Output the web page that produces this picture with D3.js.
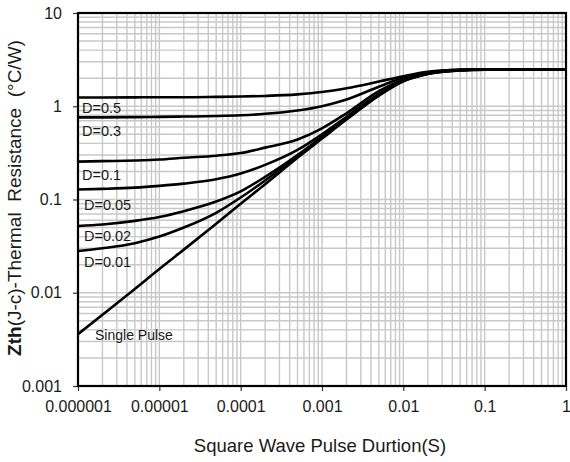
<!DOCTYPE html>
<html>
<head>
<meta charset="utf-8">
<script src="https://cdn.jsdelivr.net/npm/d3@7/dist/d3.min.js"></script>
<style>
body{margin:0;background:#fff;}
text{font-family:"Liberation Sans",Arial,sans-serif;fill:#1a1a1a;}
</style>
</head>
<body>
<svg id="chart" width="570" height="462"></svg>
<script>
// pulse width (s) and Zth (C/W)
var pulseWidth=[1e-6,2e-6,5e-6,1e-5,2e-5,5e-5,1e-4,2e-4,5e-4,1e-3,2e-3,5e-3,1e-2,2e-2,5e-2,0.1,0.2,0.5,1];
var zthD05=[1.24,1.24,1.245,1.25,1.25,1.26,1.27,1.29,1.34,1.42,1.56,1.84,2.10,2.34,2.46,2.48,2.48,2.48,2.48];
var zthD03=[0.76,0.76,0.765,0.77,0.775,0.785,0.80,0.83,0.90,1.00,1.18,1.62,2.02,2.30,2.46,2.48,2.48,2.48,2.48];
var zthD01=[0.255,0.258,0.262,0.268,0.28,0.295,0.315,0.36,0.44,0.58,0.84,1.45,1.93,2.27,2.45,2.48,2.48,2.48,2.48];
var zthD005=[0.128,0.130,0.134,0.140,0.148,0.165,0.19,0.235,0.34,0.50,0.77,1.36,1.89,2.25,2.45,2.48,2.48,2.48,2.48];
var zthD002=[0.052,0.054,0.059,0.065,0.075,0.095,0.122,0.175,0.30,0.47,0.74,1.33,1.87,2.24,2.44,2.48,2.48,2.48,2.48];
var zthD001=[0.028,0.030,0.034,0.040,0.050,0.072,0.105,0.16,0.29,0.46,0.73,1.31,1.86,2.23,2.43,2.48,2.48,2.48,2.48];
var zthSingle=[0.0036,0.0058,0.0110,0.018,0.029,0.055,0.090,0.146,0.28,0.45,0.72,1.30,1.85,2.22,2.42,2.46,2.48,2.48,2.48];

var seriesNames=["D=0.5","D=0.3","D=0.1","D=0.05","D=0.02","D=0.01","Single Pulse"];
var seriesValues=[zthD05,zthD03,zthD01,zthD005,zthD002,zthD001,zthSingle];

var xTickValues=[1e-6,1e-5,1e-4,1e-3,1e-2,0.1,1];
var xTickLabels=["0.000001","0.00001","0.0001","0.001","0.01","0.1","1"];
var yTickValues=[0.001,0.01,0.1,1,10];
var yTickLabels=["0.001","0.01","0.1","1","10"];

var margin={left:78,top:13,right:4,bottom:76};
var svg=d3.select("#chart");
var W=+svg.attr("width"),H=+svg.attr("height");
var w=W-margin.left-margin.right,h=H-margin.top-margin.bottom;

var x=d3.scaleLog().domain([1e-6,1]).range([0,w]);
var y=d3.scaleLog().domain([0.001,10]).range([h,0]);

var g=svg.append("g").attr("transform","translate("+margin.left+","+margin.top+")");

//grid
g.append("g").selectAll("line").data(x.ticks()).enter().append("line")
    .attr("x1",function(d){return x(d)}).attr("x2",function(d){return x(d)})
    .attr("y1",0).attr("y2",h)
    .attr("stroke","#c8c8c8").attr("stroke-width",1.4);
g.append("g").selectAll("line").data(y.ticks()).enter().append("line")
    .attr("y1",function(d){return y(d)}).attr("y2",function(d){return y(d)})
    .attr("x1",0).attr("x2",w)
    .attr("stroke","#c8c8c8").attr("stroke-width",1.4);

//axes
var xAxis=g.append("g").attr("transform","translate(0,"+h+")")
    .call(d3.axisBottom(x).tickValues(xTickValues).tickFormat(function(d,i){return xTickLabels[i]}).tickSize(5).tickSizeOuter(0).tickPadding(10));
var yAxis=g.append("g")
    .call(d3.axisLeft(y).tickValues(yTickValues).tickFormat(function(d,i){return yTickLabels[i]}).tickSize(5).tickSizeOuter(0).tickPadding(11));
[xAxis,yAxis].forEach(function(a){
    a.select(".domain").remove();
    a.selectAll(".tick line").attr("stroke","#333").attr("stroke-width",1.2);
    a.selectAll(".tick text").style("font-size","16px").style("font-family",'"Liberation Sans",Arial,sans-serif').attr("fill","#1a1a1a");
});

//curves
var line=d3.line()
    .x(function(d){return x(d[0])})
    .y(function(d){return y(d[1])})
    .curve(d3.curveMonotoneX);

// label drop below each curve start
var labelDy=[15,19,18,20,15,16,6];

seriesValues.forEach(function(vals,k){
    var pts=pulseWidth.map(function(t,i){return [t,vals[i]]});
    g.append("path").attr("d",line(pts))
        .attr("fill","none").attr("stroke","#000").attr("stroke-width",2.6);
    var isSingle=seriesNames[k]==="Single Pulse";
    g.append("text")
        .attr("x",isSingle?17:(k>2?6:4))
        .attr("y",y(vals[0])+labelDy[k])
        .style("font-size",isSingle?"14px":"14.5px")
        .text(seriesNames[k]);
});

//frame
g.append("rect").attr("width",w).attr("height",h)
    .attr("fill","none").attr("stroke","#000").attr("stroke-width",2.2);

//titles
svg.append("text")
    .attr("x",320).attr("y",H-10)
    .attr("text-anchor","middle").style("font-size","18.5px")
    .text("Square Wave Pulse Durtion(S)");

var yt=svg.append("text")
    .attr("text-anchor","start").style("font-size","19px").style("white-space","pre");
yt.append("tspan").style("font-weight","bold").text("Zth");
yt.append("tspan").text("(J-c)-Thermal  Resistance  (\u00B0C/W)");
var len=yt.node().getBBox().width;
yt.attr("transform","translate(21,"+(198+len/2)+") rotate(-90)");
</script>
</body>
</html>
